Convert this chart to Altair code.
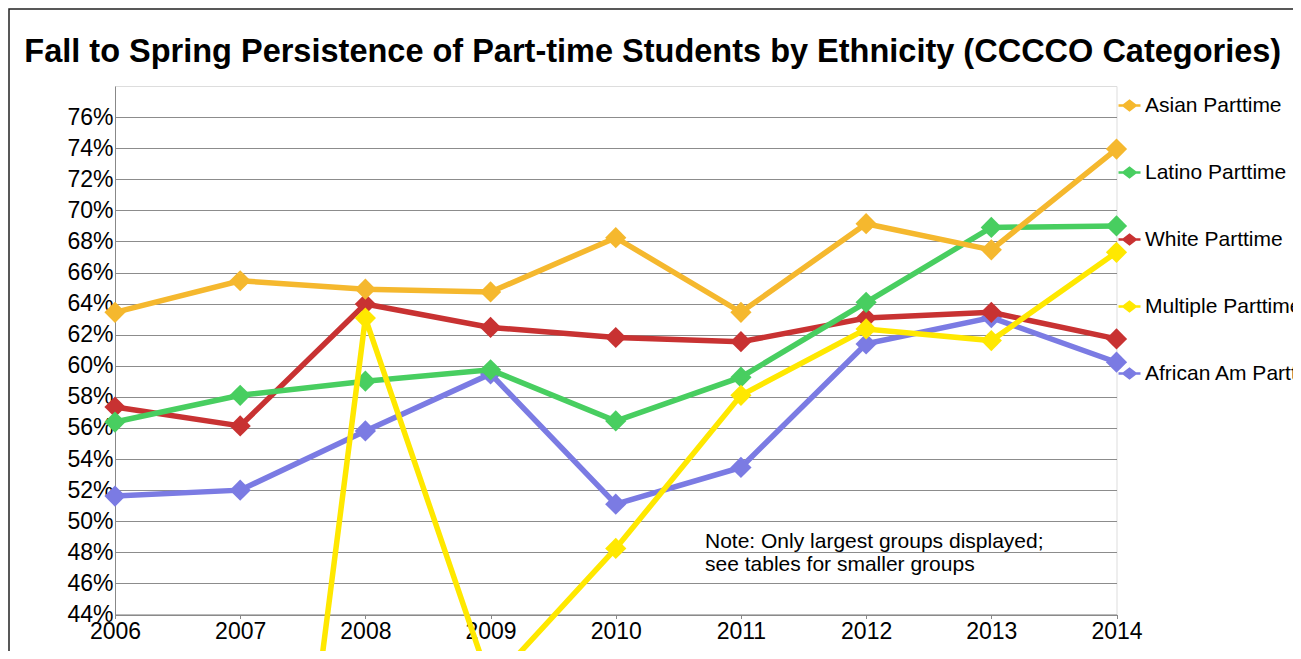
import altair as alt
import pandas as pd

years = [2006, 2007, 2008, 2009, 2010, 2011, 2012, 2013, 2014]
series = ["Asian Parttime", "Latino Parttime", "White Parttime",
          "Multiple Parttime", "African Am Parttime"]
asian = [63.44, 65.47, 64.93, 64.75, 68.24, 63.44, 69.14, 67.46, 73.94]
latino = [56.38, 58.10, 59.01, 59.74, 56.45, 59.27, 64.08, 68.90, 69.00]
white = [57.35, 56.13, 63.97, 62.47, 61.82, 61.55, 63.07, 63.44, 61.73]
multiple = [0.0, 0.0, 63.07, 39.5, 48.25, 58.10, 62.37, 61.62, 67.30]
african = [51.62, 52.00, 55.81, 59.48, 51.10, 53.46, 61.41, 63.10, 60.23]
colors = ["#F5B82E", "#48CE60", "#C83232", "#FFE800", "#7B7BE3"]
draw_order = ["African Am Parttime", "White Parttime", "Latino Parttime",
              "Multiple Parttime", "Asian Parttime"]
y_ticks = list(range(44, 77, 2))
title_text = "Fall to Spring Persistence of Part-time Students by Ethnicity (CCCCO Categories)"
note_lines = ["Note: Only largest groups displayed;", "see tables for smaller groups"]
note_pos = {"year": [2010.713], "value": [48.31]}

values = {"Asian Parttime": asian, "Latino Parttime": latino, "White Parttime": white,
          "Multiple Parttime": multiple, "African Am Parttime": african}
rows = []
for s in series:
    for yr, v in zip(years, values[s]):
        rows.append({"year": yr, "value": v, "series": s})
df = pd.DataFrame(rows)

FONT = "Liberation Sans"
color_scale = alt.Scale(domain=series, range=colors)
legend_path = "M-1,0H1M-0.55,0L0,-0.42L0.55,0L0,0.42Z"
legend = alt.Legend(orient="none", legendX=1002, legendY=7, title=None,
                    symbolType=legend_path, symbolSize=484, symbolStrokeWidth=2.5,
                    labelFontSize=21, labelFont=FONT, labelColor="black",
                    labelLimit=500, rowPadding=44, labelOffset=3, padding=0)

x_enc = alt.X("year:Q", scale=alt.Scale(domain=[2006, 2014], nice=False, zero=False),
              axis=alt.Axis(values=years, tickCount=len(years), format="d", grid=False,
                            tickSize=4, labelPadding=2, labelFontSize=23, labelFont=FONT,
                            labelColor="black", domainColor="#888888",
                            tickColor="#888888", title=None, labelFlush=False,
                            labelOverlap=False))
y_enc = alt.Y("value:Q", scale=alt.Scale(domain=[44, 78], nice=False, zero=False),
              axis=alt.Axis(values=y_ticks, tickCount=len(y_ticks),
                            labelExpr="datum.value + '%'", grid=True,
                            gridColor="#8c8c8c", gridWidth=1, ticks=False,
                            labelPadding=2, labelFontSize=23, labelFont=FONT,
                            labelColor="black", domainColor="#888888", title=None,
                            labelFlush=False, labelOverlap=False))

base = alt.Chart(df)
layers = []
for s in draw_order:
    ln = base.transform_filter(alt.datum.series == s).mark_line(strokeWidth=5.5).encode(
        x=x_enc, y=y_enc, stroke=alt.Stroke("series:N", scale=color_scale, legend=legend))
    pt = base.transform_filter(alt.datum.series == s).mark_point(
        shape="diamond", filled=True, size=450, opacity=1).encode(
        x=x_enc, y=y_enc, fill=alt.Fill("series:N", scale=color_scale, legend=legend))
    layers += [ln, pt]

note = alt.Chart(pd.DataFrame(note_pos)).mark_text(
    text=note_lines, align="left", baseline="alphabetic", fontSize=21, font=FONT,
    lineHeight=23, color="black").encode(x="year:Q", y="value:Q")

frame = alt.Chart(pd.DataFrame({"k": [0]})).mark_rect(
    fillOpacity=0, stroke="#222222", strokeWidth=1.5).encode(
    x=alt.value(-106), y=alt.value(-77), x2=alt.value(1400), y2=alt.value(800))

chart = alt.layer(*layers, note, frame).properties(
    width=1001.5, height=528.5,
    padding={"left": 107, "top": 78, "right": 176.5, "bottom": 36.5},
    autosize=alt.AutoSizeParams(type="none"),
    title=alt.Title(title_text, fontSize=32.5, font=FONT, fontWeight="bold",
                    anchor="middle", dx=37, offset=0, dy=60, color="black"),
).configure_view(stroke="#888888", strokeWidth=1).configure(background="white")

chart.save("out.html", embed_options={"renderer": "svg", "actions": False})
